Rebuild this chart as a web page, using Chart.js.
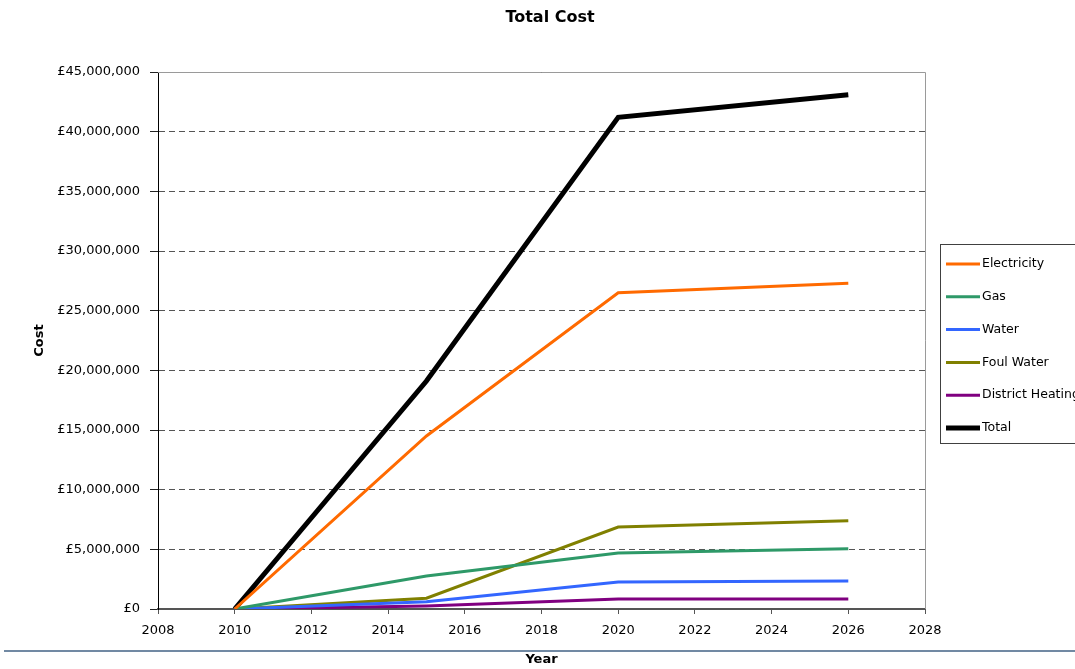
<!DOCTYPE html>
<html>
<head>
<meta charset="utf-8">
<script src="https://cdn.jsdelivr.net/npm/chart.js@4/dist/chart.umd.min.js"></script>
<style>
    html, body { margin: 0; padding: 0; background: #fff; }
    #wrap { width: 1075px; height: 669px; position: relative; }
</style>
</head>
<body>
<div id="wrap"><canvas id="costChart"></canvas></div>
<script>
// data
const years = [2010, 2015, 2020, 2026];
const electricity = [0, 14500000, 26500000, 27300000];
const gas = [0, 2770000, 4690000, 5050000];
const water = [0, 610000, 2260000, 2350000];
const foulWater = [0, 900000, 6870000, 7400000];
const districtHeating = [0, 250000, 840000, 840000];
const total = [0, 19100000, 41200000, 43100000];

const seriesNames = ['Electricity', 'Gas', 'Water', 'Foul Water', 'District Heating', 'Total'];
const seriesValues = [electricity, gas, water, foulWater, districtHeating, total];
const seriesColors = ['#ff6a00', '#2e9968', '#3366ff', '#808000', '#800080', '#000000'];

const chartTitle = 'Total Cost';
const FONT = "'DejaVu Sans', Verdana, sans-serif";

function toPoints(values) {
    return years.map((y, i) => ({ x: y, y: values[i] }));
}

// title, legend box, plot border and bottom rule
const decorPlugin = {
    id: 'decor',
    afterDraw(chart) {
        const ctx = chart.ctx;
        const area = chart.chartArea;
        ctx.save();

        // title, centred over the whole picture
        ctx.fillStyle = '#000';
        ctx.font = 'bold 16px ' + FONT;
        ctx.textAlign = 'center';
        ctx.textBaseline = 'middle';
        ctx.fillText(chartTitle, 550, 18);

        // plot frame (top / right), grey
        ctx.strokeStyle = '#9a9a9a';
        ctx.lineWidth = 1;
        ctx.beginPath();
        ctx.moveTo(area.left, area.top + 0.5);
        ctx.lineTo(area.right + 0.5, area.top + 0.5);
        ctx.lineTo(area.right + 0.5, area.bottom);
        ctx.stroke();

        // legend
        const lx = 940.5, ly = 244.5, lw = 150, lh = 199;
        ctx.strokeStyle = '#404040';
        ctx.lineWidth = 1;
        ctx.strokeRect(lx, ly, lw, lh);
        ctx.font = '12.5px ' + FONT;
        ctx.textBaseline = 'middle';
        ctx.textAlign = 'left';
        chart.data.datasets.forEach((ds, i) => {
            const y = 264 + i * 32.8;
            ctx.strokeStyle = ds.borderColor;
            ctx.lineWidth = ds.borderWidth;
            ctx.beginPath();
            ctx.moveTo(946, y);
            ctx.lineTo(980, y);
            ctx.stroke();
            ctx.fillStyle = '#000';
            ctx.fillText(ds.label, 982, y);
        });

        // rule under the chart
        ctx.strokeStyle = '#7189a3';
        ctx.lineWidth = 2;
        ctx.beginPath();
        ctx.moveTo(4, 651);
        ctx.lineTo(1075, 651);
        ctx.stroke();
        ctx.restore();
    }
};

const ctx = document.getElementById('costChart').getContext('2d');
new Chart(ctx, {
    type: 'line',
    data: {
        datasets: seriesNames.map((name, i) => ({
            label: name,
            data: toPoints(seriesValues[i]),
            borderColor: seriesColors[i],
            backgroundColor: seriesColors[i],
            borderWidth: name === 'Total' ? 5 : 3,
            pointRadius: 0,
            tension: 0,
            fill: false
        }))
    },
    options: {
        responsive: true,
        maintainAspectRatio: false,
        animation: false,
        layout: { padding: { left: 0, right: 150, top: 72, bottom: 0 } },
        scales: {
            x: {
                type: 'linear',
                min: 2008,
                max: 2028,
                afterFit(scale) { scale.height = 60; },
                ticks: {
                    stepSize: 2,
                    color: '#000',
                    padding: 9,
                    font: { family: FONT, size: 13 },
                    callback: v => String(v)
                },
                grid: {
                    drawOnChartArea: false,
                    drawTicks: true,
                    tickLength: 5,
                    tickColor: '#555'
                },
                border: { display: true, color: '#555', width: 2 },
                title: {
                    display: true,
                    text: 'Year',
                    color: '#000',
                    font: { family: FONT, size: 13, weight: 'bold' },
                    padding: { top: 0, bottom: 2 }
                }
            },
            y: {
                min: 0,
                max: 45000000,
                afterFit(scale) { scale.width = 158; },
                ticks: {
                    stepSize: 5000000,
                    color: '#000',
                    padding: 10,
                    font: { family: FONT, size: 13 },
                    callback: v => '£' + v.toLocaleString('en-GB')
                },
                grid: {
                    color: '#555',
                    lineWidth: 1,
                    tickLength: 8,
                    tickColor: '#222'
                },
                border: { display: true, color: '#000', width: 1, dash: [6, 4] },
                title: {
                    display: true,
                    text: 'Cost',
                    color: '#000',
                    font: { family: FONT, size: 13, weight: 'bold' },
                    padding: { top: 32, bottom: 0 }
                }
            }
        },
        plugins: {
            legend: { display: false },
            tooltip: { enabled: false },
            title: { display: false }
        }
    },
    plugins: [decorPlugin]
});
</script>
</body>
</html>
